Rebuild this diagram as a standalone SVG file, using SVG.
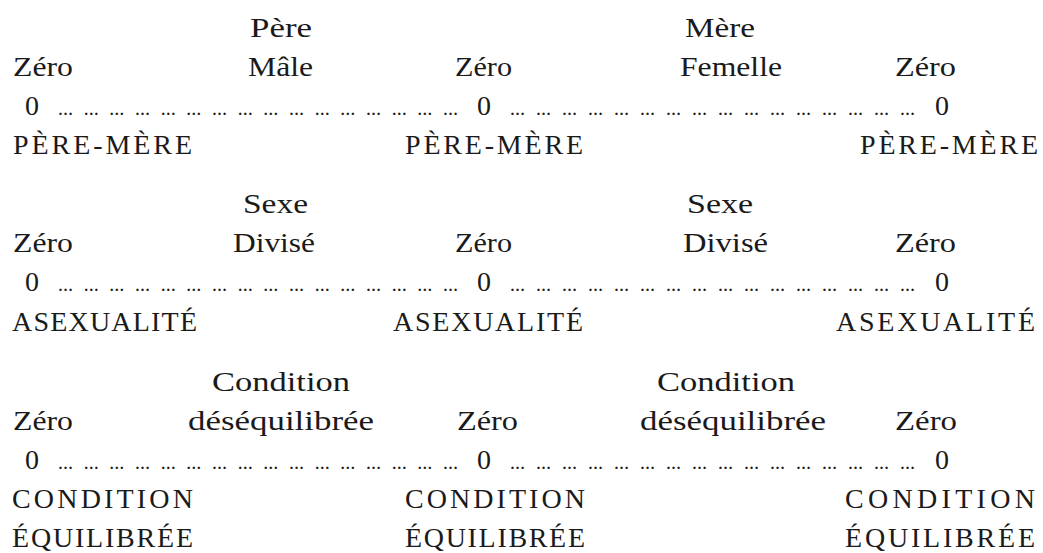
<svg xmlns="http://www.w3.org/2000/svg" width="1043" height="553" viewBox="0 0 1043 553">
<style>
text{font-family:"Liberation Serif","Times New Roman",serif;font-size:28px;fill:#1a1a1a}
.dots{font-size:15px;font-weight:bold}
</style>
<rect width="1043" height="553" fill="#ffffff"/>
<g id="row1">
  <g id="r1-left"><text x="13" y="76" textLength="60" lengthAdjust="spacingAndGlyphs">Zéro</text><text x="25" y="115">0</text><text x="13" y="154" textLength="179" lengthAdjust="spacing">PÈRE-MÈRE</text></g>
  <g id="r1-pere"><text x="250" y="37" textLength="62" lengthAdjust="spacingAndGlyphs">Père</text><text x="248" y="76" textLength="65" lengthAdjust="spacingAndGlyphs">Mâle</text></g>
  <g id="r1-mid"><text x="455" y="76" textLength="57" lengthAdjust="spacingAndGlyphs">Zéro</text><text x="477" y="115">0</text><text x="405" y="154" textLength="178" lengthAdjust="spacing">PÈRE-MÈRE</text></g>
  <g id="r1-mere"><text x="685" y="37" textLength="70" lengthAdjust="spacingAndGlyphs">Mère</text><text x="680" y="76" textLength="102" lengthAdjust="spacingAndGlyphs">Femelle</text></g>
  <g id="r1-right"><text x="895" y="76" textLength="61" lengthAdjust="spacingAndGlyphs">Zéro</text><text x="935" y="115">0</text><text x="860" y="154" textLength="178" lengthAdjust="spacing">PÈRE-MÈRE</text></g>
</g>
<g id="row2">
  <g id="r2-left"><text x="13" y="252" textLength="60" lengthAdjust="spacingAndGlyphs">Zéro</text><text x="25" y="291">0</text><text x="12" y="331" textLength="185" lengthAdjust="spacing">ASEXUALITÉ</text></g>
  <g id="r2-sexe1"><text x="243" y="213" textLength="65" lengthAdjust="spacingAndGlyphs">Sexe</text><text x="233" y="252" textLength="82" lengthAdjust="spacingAndGlyphs">Divisé</text></g>
  <g id="r2-mid"><text x="455" y="252" textLength="57" lengthAdjust="spacingAndGlyphs">Zéro</text><text x="477" y="291">0</text><text x="393" y="331" textLength="190" lengthAdjust="spacing">ASEXUALITÉ</text></g>
  <g id="r2-sexe2"><text x="687" y="213" textLength="66" lengthAdjust="spacingAndGlyphs">Sexe</text><text x="683" y="252" textLength="85" lengthAdjust="spacingAndGlyphs">Divisé</text></g>
  <g id="r2-right"><text x="895" y="252" textLength="61" lengthAdjust="spacingAndGlyphs">Zéro</text><text x="935" y="291">0</text><text x="836" y="331" textLength="199" lengthAdjust="spacing">ASEXUALITÉ</text></g>
</g>
<g id="row3">
  <g id="r3-left"><text x="13" y="430" textLength="60" lengthAdjust="spacingAndGlyphs">Zéro</text><text x="25" y="469">0</text><text x="12" y="508" textLength="181" lengthAdjust="spacing">CONDITION</text><text x="12" y="547" textLength="181" lengthAdjust="spacing">ÉQUILIBRÉE</text></g>
  <g id="r3-cond1"><text x="212" y="391" textLength="138" lengthAdjust="spacingAndGlyphs">Condition</text><text x="188" y="430" textLength="186" lengthAdjust="spacingAndGlyphs">déséquilibrée</text></g>
  <g id="r3-mid"><text x="457" y="430" textLength="61" lengthAdjust="spacingAndGlyphs">Zéro</text><text x="477" y="469">0</text><text x="405" y="508" textLength="180" lengthAdjust="spacing">CONDITION</text><text x="405" y="547" textLength="180" lengthAdjust="spacing">ÉQUILIBRÉE</text></g>
  <g id="r3-cond2"><text x="657" y="391" textLength="138" lengthAdjust="spacingAndGlyphs">Condition</text><text x="640" y="430" textLength="186" lengthAdjust="spacingAndGlyphs">déséquilibrée</text></g>
  <g id="r3-right"><text x="895" y="430" textLength="62" lengthAdjust="spacingAndGlyphs">Zéro</text><text x="935" y="469">0</text><text x="845" y="508" textLength="190" lengthAdjust="spacing">CONDITION</text><text x="845" y="547" textLength="190" lengthAdjust="spacing">ÉQUILIBRÉE</text></g>
</g>
<g id="connectors">
  <text class="dots" x="58" y="115" textLength="400" lengthAdjust="spacing">… … … … … … … … … … … … … … … …</text>
  <text class="dots" x="510" y="115" textLength="405" lengthAdjust="spacing">… … … … … … … … … … … … … … … …</text>
  <text class="dots" x="58" y="291" textLength="400" lengthAdjust="spacing">… … … … … … … … … … … … … … … …</text>
  <text class="dots" x="510" y="291" textLength="405" lengthAdjust="spacing">… … … … … … … … … … … … … … … …</text>
  <text class="dots" x="58" y="469" textLength="400" lengthAdjust="spacing">… … … … … … … … … … … … … … … …</text>
  <text class="dots" x="510" y="469" textLength="405" lengthAdjust="spacing">… … … … … … … … … … … … … … … …</text>
</g>
</svg>
